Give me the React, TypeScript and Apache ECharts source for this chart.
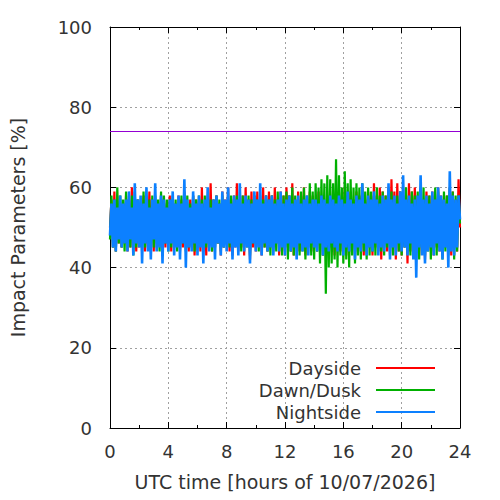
import React, { useEffect, useRef } from "react";
import * as echarts from "echarts";

// Time grid: one sample every 0.1 h (6 min), 0..24 h
const timeStepHours = 0.1;

// Impact parameters [%] per sample (rows = one hour)
const dayside: number[] = [
  50, 57, 45, 59, 44, 58, 46, 57, 45, 56,
  46, 58, 44, 57, 45, 60, 46, 56, 44, 57,
  45, 56, 46, 58, 44, 57, 45, 59, 46, 56,
  44, 57, 45, 56, 46, 58, 44, 57, 45, 56,
  46, 58, 44, 57, 45, 56, 46, 58, 44, 57,
  45, 59, 46, 56, 44, 57, 45, 58, 43, 57,
  46, 57, 44, 60, 45, 56, 43, 58, 46, 61,
  44, 57, 45, 58, 46, 56, 43, 59, 45, 57,
  46, 60, 44, 57, 43, 58, 45, 61, 44, 57,
  45, 58, 43, 60, 46, 57, 42, 59, 45, 58,
  44, 59, 46, 57, 43, 60, 45, 58, 44, 59,
  45, 58, 44, 60, 46, 57, 43, 59, 44, 58,
  43, 60, 45, 58, 44, 61, 43, 57, 45, 59,
  44, 58, 46, 60, 43, 57, 45, 59, 44, 58,
  45, 57, 44, 59, 46, 58, 43, 56, 45, 58,
  44, 57, 45, 58, 43, 57, 46, 59, 44, 57,
  45, 60, 43, 58, 44, 59, 46, 57, 43, 59,
  44, 58, 45, 60, 43, 57, 44, 59, 45, 58,
  43, 61, 45, 58, 44, 60, 42, 59, 45, 58,
  44, 60, 43, 62, 45, 59, 42, 61, 44, 59,
  43, 60, 45, 58, 41, 61, 44, 59, 43, 60,
  45, 58, 43, 60, 44, 57, 42, 59, 45, 58,
  44, 59, 43, 57, 45, 60, 44, 58, 43, 57,
  45, 58, 44, 60, 43, 59, 45, 57, 44, 62,
  50,
];

const dawnDusk: number[] = [
  47, 58, 45, 57, 44, 60, 46, 58, 45, 57,
  44, 59, 46, 57, 45, 58, 43, 59, 45, 57,
  46, 57, 44, 59, 45, 58, 46, 57, 44, 58,
  45, 58, 46, 57, 44, 59, 45, 58, 46, 57,
  44, 57, 45, 58, 46, 57, 44, 56, 45, 58,
  46, 57, 44, 58, 45, 56, 46, 58, 44, 57,
  45, 58, 46, 57, 44, 58, 45, 56, 46, 57,
  44, 57, 45, 58, 46, 57, 44, 58, 45, 56,
  46, 57, 45, 58, 44, 57, 46, 58, 45, 57,
  44, 58, 46, 57, 45, 58, 43, 57, 46, 58,
  45, 57, 44, 58, 46, 57, 45, 58, 44, 57,
  43, 58, 45, 57, 44, 59, 46, 57, 43, 58,
  45, 59, 42, 58, 44, 60, 43, 58, 45, 57,
  43, 59, 44, 60, 42, 58, 45, 61, 43, 59,
  42, 61, 44, 60, 41, 62, 43, 61, 33.5, 63,
  40, 62, 41, 61, 42, 67, 40, 63, 43, 60,
  41, 64, 42, 61, 40, 62, 43, 60, 41, 61,
  43, 60, 42, 61, 44, 59, 42, 60, 43, 59,
  44, 58, 43, 60, 45, 58, 44, 59, 43, 58,
  45, 58, 44, 59, 43, 57, 45, 58, 44, 59,
  43, 58, 45, 60, 44, 57, 43, 59, 45, 58,
  44, 59, 42, 58, 45, 60, 43, 57, 44, 58,
  42, 58, 44, 60, 43, 59, 45, 57, 42, 59,
  44, 58, 43, 60, 45, 59, 42, 58, 44, 58,
  51,
];

const nightside: number[] = [
  48, 56, 45, 57, 44, 55, 47, 58, 45, 56,
  46, 57, 44, 59, 47, 55, 43, 61, 46, 57,
  45, 58, 41, 56, 46, 60, 44, 55, 42, 57,
  47, 61, 44, 56, 45, 58, 41, 57, 46, 55,
  44, 57, 46, 59, 43, 56, 45, 58, 42, 56,
  46, 62, 40, 57, 45, 55, 44, 59, 46, 56,
  43, 58, 45, 56, 41, 57, 46, 60, 44, 55,
  45, 57, 42, 58, 46, 56, 43, 59, 45, 57,
  44, 60, 46, 56, 42, 58, 45, 57, 43, 61,
  46, 56, 44, 58, 45, 57, 41, 56, 46, 59,
  44, 57, 45, 61, 43, 56, 46, 58, 44, 57,
  45, 58, 43, 56, 46, 57, 44, 59, 45, 56,
  43, 57, 46, 58, 44, 56, 45, 57, 42, 58,
  46, 56, 44, 57, 45, 58, 43, 56, 46, 57,
  45, 57, 44, 56, 46, 58, 43, 57, 45, 56,
  44, 58, 46, 57, 45, 56, 44, 58, 46, 57,
  43, 56, 45, 59, 44, 57, 46, 56, 42, 58,
  45, 57, 44, 61, 46, 56, 43, 58, 45, 57,
  44, 59, 46, 57, 43, 56, 45, 58, 44, 57,
  46, 61, 42, 57, 45, 58, 43, 56, 46, 59,
  44, 63, 45, 57, 43, 58, 46, 56, 42, 57,
  37.5, 58, 45, 63, 43, 57, 41, 58, 44, 56,
  45, 59, 43, 57, 46, 60, 44, 58, 42, 57,
  45, 56, 40, 64, 44, 58, 43, 57, 45, 58,
  52,
];

const seriesNames = ["Dayside", "Dawn/Dusk", "Nightside"];
const seriesColors = ["#ff0000", "#00b000", "#0c80ff"];
const seriesWidths = [2.2, 2.2, 2.6];
const seriesValues = [dayside, dawnDusk, nightside];
const thresholdValue = 74;

const xMin = 0;
const xMax = 24;
const xInterval = 4;
const yMin = 0;
const yMax = 100;
const yInterval = 20;

const FONT = "DejaVu Sans";
const TEXT = "#333333";

export default function App() {
  const ref = useRef<HTMLDivElement>(null);

  useEffect(() => {
    if (!ref.current) return;
    const chart = echarts.init(ref.current, undefined, { renderer: "svg" });

    const toPairs = (vals: number[]) =>
      vals.map((v, i) => [Math.round(i * timeStepHours * 10) / 10, v]);

    const tickCommon = {
      axisLine: { show: true, onZero: false, lineStyle: { color: "#000", width: 1 } },
      axisTick: { show: true, inside: true, length: 6, lineStyle: { color: "#000", width: 1 } },
    };

    const option: any = {
      animation: false,
      backgroundColor: "#ffffff",
      grid: { left: 107, right: 40, top: 27, bottom: 72, containLabel: false },
      xAxis: [
        {
          type: "value",
          min: xMin,
          max: xMax,
          interval: xInterval,
          position: "bottom",
          ...tickCommon,
          minorTick: { show: true, splitNumber: 2, length: 3, lineStyle: { color: "#000" } },
          splitLine: { show: true, lineStyle: { color: "#a0a0a0", width: 1, type: [2, 3] } },
          axisLabel: { fontSize: 18, color: TEXT, margin: 14, fontFamily: FONT },
          name: "UTC time [hours of 10/07/2026]",
          nameLocation: "middle",
          nameGap: 44,
          nameTextStyle: { fontSize: 19, color: TEXT, fontFamily: FONT },
        },
        {
          type: "value",
          min: xMin,
          max: xMax,
          interval: xInterval,
          position: "top",
          ...tickCommon,
          minorTick: { show: true, splitNumber: 2, length: 3, lineStyle: { color: "#000" } },
          splitLine: { show: false },
          axisLabel: { show: false },
        },
      ],
      yAxis: [
        {
          type: "value",
          min: yMin,
          max: yMax,
          interval: yInterval,
          position: "left",
          ...tickCommon,
          splitLine: { show: true, lineStyle: { color: "#a0a0a0", width: 1, type: [2, 3] } },
          axisLabel: { fontSize: 18, color: TEXT, margin: 18, fontFamily: FONT },
          name: "Impact Parameters [%]",
          nameLocation: "middle",
          nameGap: 83,
          nameTextStyle: { fontSize: 19, color: TEXT, fontFamily: FONT },
        },
        {
          type: "value",
          min: yMin,
          max: yMax,
          interval: yInterval,
          position: "right",
          ...tickCommon,
          splitLine: { show: false },
          axisLabel: { show: false },
        },
      ],
      legend: seriesNames.map((name, i) => ({
        data: [name],
        orient: "horizontal",
        align: "right",
        right: 65,
        top: 359 + i * 22,
        padding: 0,
        itemWidth: 59,
        itemHeight: 2,
        icon: "rect",
        selectedMode: false,
        textStyle: { fontSize: 18, color: TEXT, fontFamily: FONT, padding: [0, 10, 0, 0] },
      })),
      series: [
        ...seriesNames.map((name, i) => ({
          name,
          type: "line",
          xAxisIndex: 0,
          yAxisIndex: 0,
          data: toPairs(seriesValues[i]),
          showSymbol: false,
          symbol: "none",
          color: seriesColors[i],
          lineStyle: { color: seriesColors[i], width: seriesWidths[i], join: "miter" },
          z: 2 + i,
          silent: true,
        })),
        {
          name: "threshold",
          type: "line",
          xAxisIndex: 0,
          yAxisIndex: 0,
          data: [],
          silent: true,
          markLine: {
            silent: true,
            symbol: ["none", "none"],
            label: { show: false },
            lineStyle: { color: "#9400d3", width: 1, type: "solid" },
            data: [{ yAxis: thresholdValue }],
          },
        },
      ],
    };

    chart.setOption(option);
    return () => chart.dispose();
  }, []);

  return (
    <div
      ref={ref}
      style={{ position: "absolute", left: 0, top: 0, width: 500, height: 500 }}
    />
  );
}
